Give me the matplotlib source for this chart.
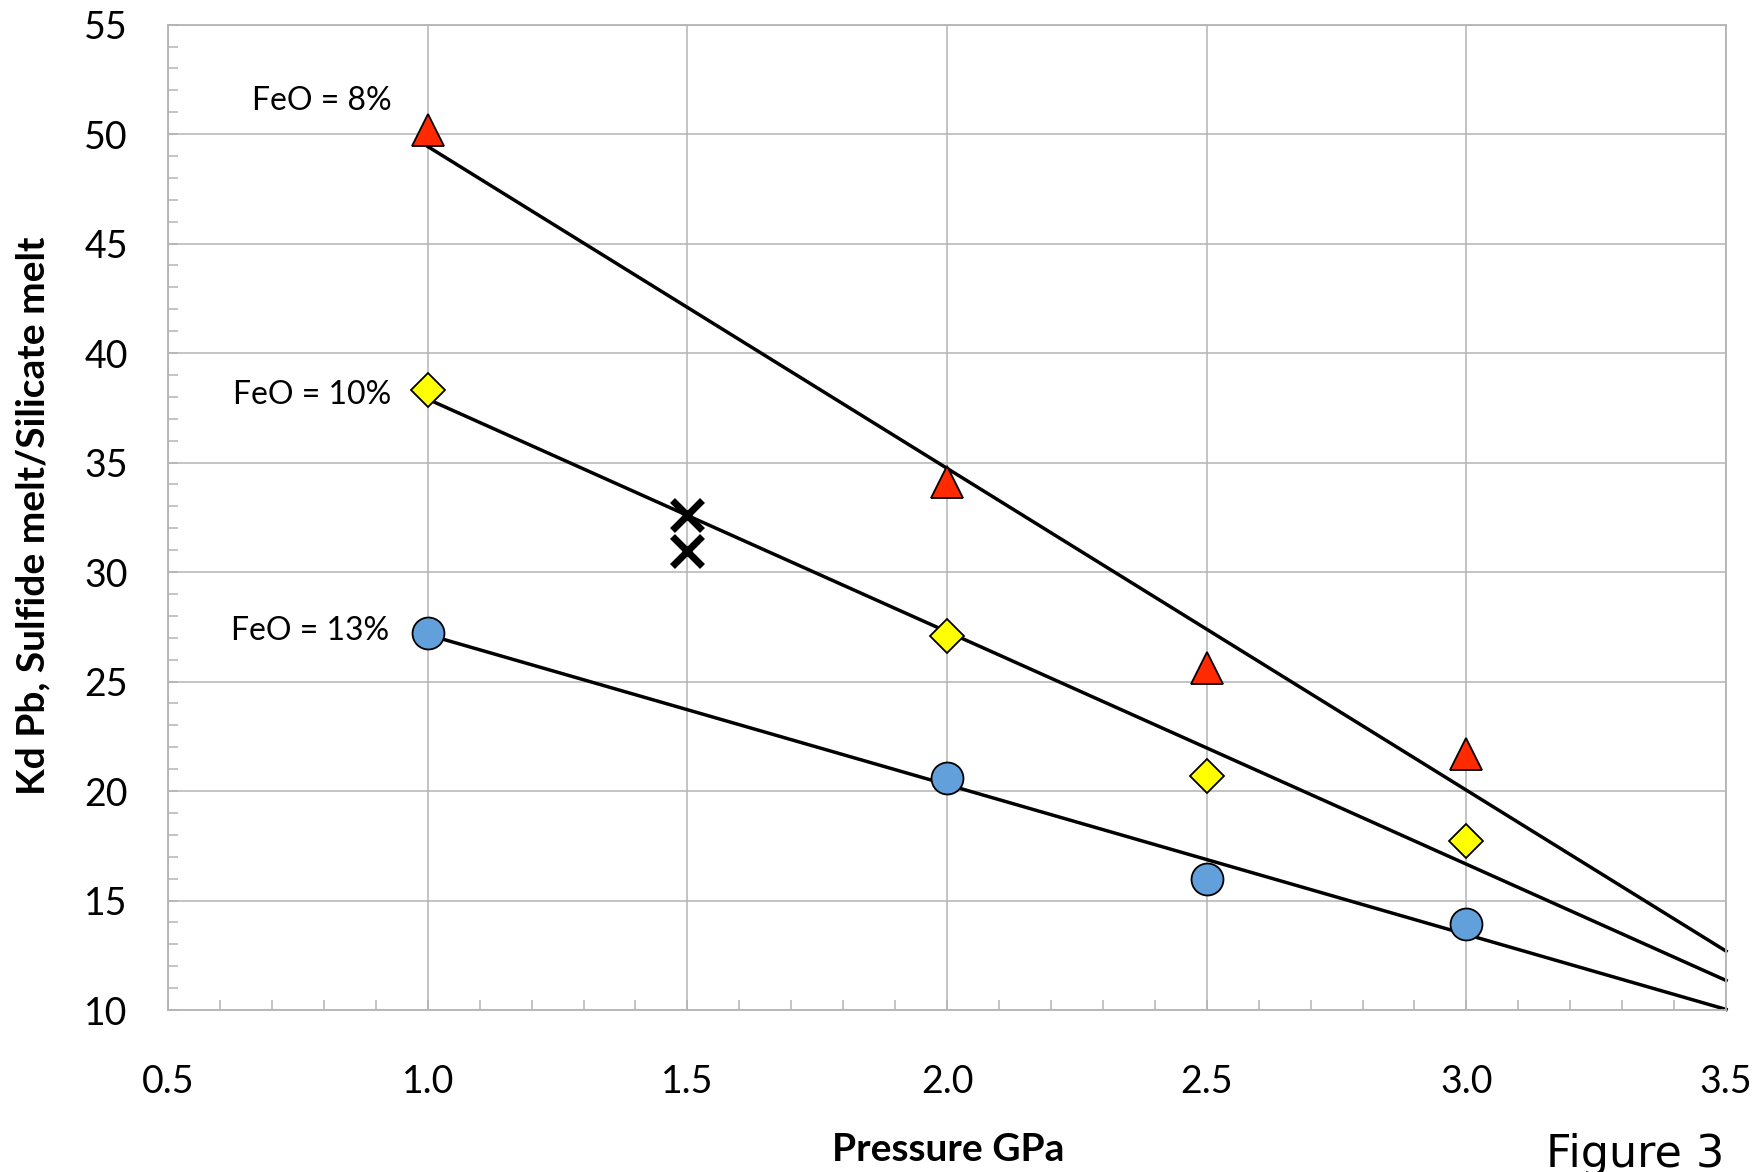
import numpy as np
import matplotlib
matplotlib.use("Agg")
import matplotlib.pyplot as plt
from matplotlib.ticker import MultipleLocator, FormatStrFormatter

plt.rcParams['font.family'] = ['Lato', 'DejaVu Sans']

# presion (GPa) y Kd Pb
presion = [1.0, 2.0, 2.5, 3.0]
kd_feo8 = [50.2, 34.1, 25.6, 21.7]
kd_feo10 = [38.3, 27.1, 20.7, 17.7]
kd_feo13 = [27.2, 20.6, 16.0, 13.95]
presion_x = [1.5, 1.5]
kd_x = [32.6, 30.95]
etiquetas = ['FeO = 8%', 'FeO = 10%', 'FeO = 13%']

fig = plt.figure(figsize=(17.6, 11.72), dpi=100)
ax = fig.add_axes([0.0955, 0.1382, 0.8852, 0.8408])

gris = '#b4b4b4'
ax.set_xlim(0.5, 3.5)
ax.set_ylim(10, 55)
ax.xaxis.set_major_locator(MultipleLocator(0.5))
ax.xaxis.set_minor_locator(MultipleLocator(0.1))
ax.yaxis.set_major_locator(MultipleLocator(5))
ax.yaxis.set_minor_locator(MultipleLocator(1))
ax.xaxis.set_major_formatter(FormatStrFormatter('%.1f'))
ax.grid(True, which='major', color=gris, lw=1.1, zorder=0)
for s in ax.spines.values():
    s.set_color(gris)
    s.set_linewidth(1.3)
ax.tick_params(which='both', direction='in', color=gris, width=1.1)
ax.tick_params(which='minor', length=7)
ax.tick_params(which='major', length=7, labelsize=27)
ax.tick_params(axis='x', which='major', pad=39)
ax.tick_params(axis='y', which='major', pad=29)

# lineas de tendencia (minimos cuadrados) de 1.0 a 3.5 GPa
xt = np.array([1.0, 3.5])
series = [
    (kd_feo8, '^', '#ff2a00', 23),
    (kd_feo10, 'D', '#ffff00', 17),
    (kd_feo13, 'o', '#62a0db', 23),
]
for kd, m, c, ms in series:
    a, b = np.polyfit(presion, kd, 1)
    ax.plot(xt, a * xt + b, color='black', lw=2.5, zorder=2, clip_on=False)
    ax.plot(presion, kd, ls='none', marker=m, color=c, ms=ms,
            mec='black', mew=1.3, zorder=3)

ax.plot(presion_x, kd_x, ls='none', marker='x', color='black', ms=21,
        mew=5, zorder=3)

pos_etq = [(0.93, 51.5), (0.93, 38.1), (0.925, 27.3)]
for t, (x, y) in zip(etiquetas, pos_etq):
    ax.text(x, y, t, ha='right', va='center', fontsize=23)

fig.text(0.019, 0.56, 'Kd Pb, Sulfide melt/Silicate melt', rotation=90,
         ha='center', va='center', fontsize=28, fontweight='bold')
fig.text(0.539, 0.0095, 'Pressure GPa', ha='center', va='baseline',
         fontsize=28, fontweight='bold')
fig.text(0.929, 0.0043, 'Figure 3', ha='center', va='baseline',
         fontsize=32, family='DejaVu Sans')

fig.savefig('out.png', dpi=100)
